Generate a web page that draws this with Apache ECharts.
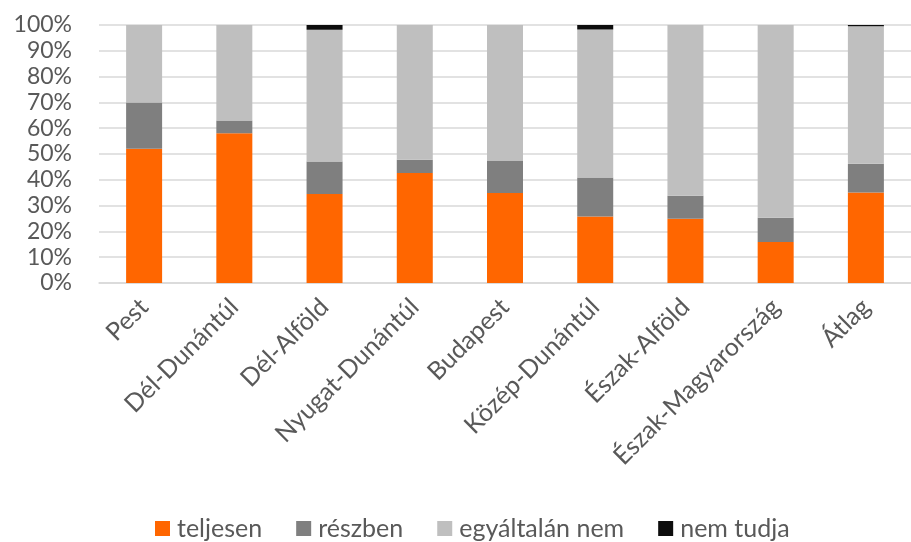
<!DOCTYPE html>
<html>
<head>
<meta charset="utf-8">
<script src="https://cdn.jsdelivr.net/npm/echarts@6/dist/echarts.min.js"></script>
<style>
  html, body { margin: 0; padding: 0; background: #fff; }
  #chart { width: 911px; height: 542px; }
</style>
</head>
<body>
<div id="chart"></div>
<script>
// Regions and answer shares (percent of respondents)
const categories = ['Pest', 'Dél-Dunántúl', 'Dél-Alföld', 'Nyugat-Dunántúl', 'Budapest',
  'Közép-Dunántúl', 'Észak-Alföld', 'Észak-Magyarország', 'Átlag'];
const teljesen      = [52.0, 58.0, 34.5, 42.6, 34.9, 25.8, 24.9, 15.9, 35.1];
const reszben       = [18.0, 5.0, 12.6, 5.2, 12.6, 15.1, 8.9, 9.4, 11.1];
const egyaltalanNem = [30.0, 37.0, 51.1, 52.2, 52.5, 57.4, 66.2, 74.7, 53.3];
const nemTudja      = [0, 0, 1.8, 0, 0, 1.7, 0, 0, 0.5];
const seriesNames = ['teljesen', 'részben', 'egyáltalán nem', 'nem tudja'];
const yTicks = { min: 0, max: 100, interval: 10 };

const FONT = 'Lato';
const colors = ['#ff6600', '#7f7f7f', '#bfbfbf', '#0d0d0d'];
const values = [teljesen, reszben, egyaltalanNem, nemTudja];

const chart = echarts.init(document.getElementById('chart'), null, { renderer: 'canvas' });
chart.setOption({
  animation: false,
  color: colors,
  textStyle: { fontFamily: FONT },
  grid: { left: 99, top: 25, width: 825, height: 258, containLabel: false },
  legend: {
    top: 511,
    left: 150,
    itemWidth: 15,
    itemHeight: 15,
    itemGap: 34,
    icon: 'rect',
    textStyle: { fontFamily: FONT, fontSize: 25, color: '#595959', padding: [0, 0, 0, 2] },
    data: seriesNames
  },
  xAxis: {
    type: 'category',
    data: categories,
    axisLine: { show: true, lineStyle: { color: '#d9d9d9', width: 1.5 } },
    axisTick: { show: false },
    axisLabel: { rotate: 45, interval: 0, margin: 20, fontFamily: FONT, fontSize: 25, color: '#595959' }
  },
  yAxis: {
    type: 'value',
    min: yTicks.min,
    max: yTicks.max,
    interval: yTicks.interval,
    axisLine: { show: false },
    axisTick: { show: false },
    splitLine: { lineStyle: { color: '#d9d9d9', width: 1.5 } },
    axisLabel: { formatter: '{value}%', margin: 27, fontFamily: FONT, fontSize: 23, color: '#595959' }
  },
  series: seriesNames.map((name, i) => ({
    name: name,
    type: 'bar',
    stack: 'total',
    barWidth: 36,
    data: values[i],
    itemStyle: { color: colors[i] }
  }))
});
</script>
</body>
</html>
